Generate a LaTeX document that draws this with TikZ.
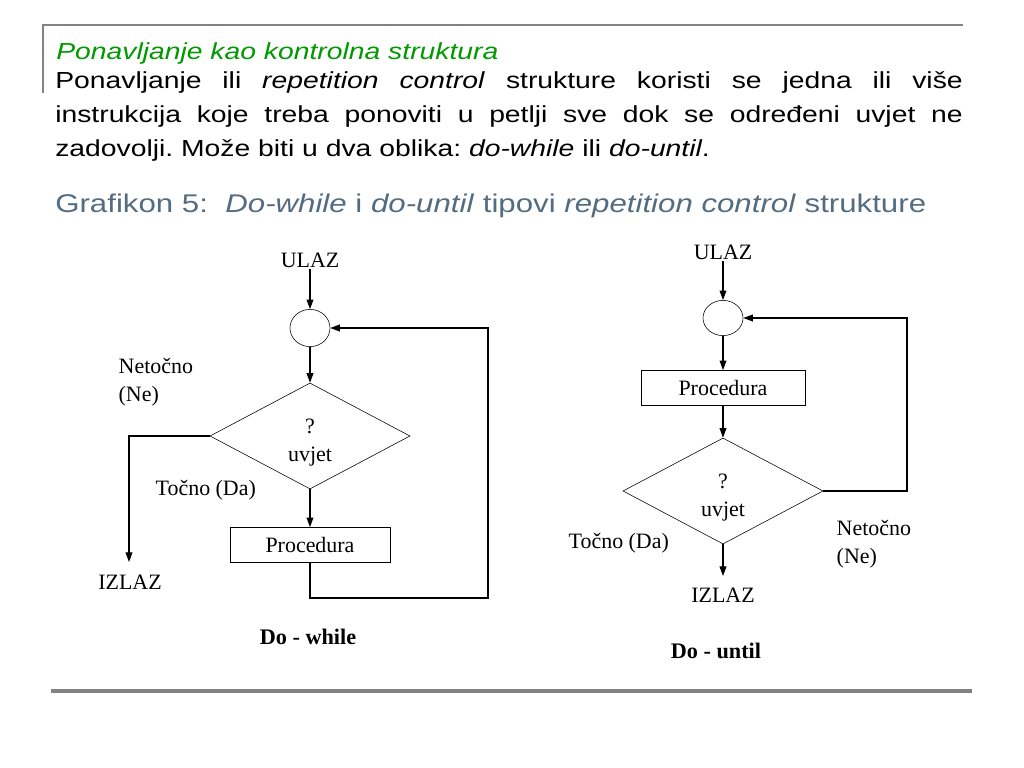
\documentclass[tikz,border=0pt]{standalone}
\usepackage{fontspec}
\setmainfont{Liberation Serif}
\newfontfamily\slidefont[FakeStretch=1.22]{Liberation Sans}
\usetikzlibrary{positioning,arrows.meta,shapes.geometric}
\definecolor{titlegreen}{RGB}{0,153,0}
\definecolor{capblue}{RGB}{84,108,130}
\definecolor{rulegray}{RGB}{130,130,130}
\frenchspacing

\begin{document}
\begin{tikzpicture}[x=0.025cm,y=-0.025cm,
        lbl/.style={font=\fontsize{15.6}{20}\selectfont,inner sep=1pt},
        joint/.style={draw,ellipse,minimum width=1cm,minimum height=0.93cm,inner sep=0pt},
        test/.style={draw,diamond,minimum width=5cm,minimum height=2.65cm,inner sep=0pt},
        cond/.style={align=center,font=\fontsize{15.6}{20}\selectfont,yshift=-4.5pt},
        proc/.style={draw,minimum width=4cm,minimum height=0.88cm,inner sep=0pt,
                     font=\fontsize{15.6}{20}\selectfont},
        arr/.style={-{Triangle[length=2.4mm,width=1.7mm]},line width=0.8pt}]
        \useasboundingbox (0,0) rectangle (1024,768);
        % slide frame
        \draw[rulegray,line width=1.5pt] (43,93) -- (43,25) -- (963,25);
        \draw[rulegray,line width=2.2pt] (51,691) -- (972,691);
        \node[anchor=base west,inner sep=0pt,text=titlegreen,
              font=\slidefont\itshape\fontsize{16.5}{24}\selectfont] (title) at (56,60)
            {Ponavljanje kao kontrolna struktura};
        \node[anchor=base west,inner sep=0pt,text width=22.68cm,align=justify,
              font=\slidefont\fontsize{16.5}{24.1}\selectfont] (body) at (55,89)
            {Ponavljanje ili \textit{repetition control} strukture koristi se jedna ili više\linebreak
             instrukcija koje treba ponoviti u petlji sve dok se određeni uvjet ne\linebreak
             zadovolji. Može biti u dva oblika: \textit{do-while} ili \textit{do-until}.};
        \node[anchor=base west,inner sep=0pt,text=capblue,
              font=\slidefont\fontsize{18.2}{26}\selectfont] (cap) at (55,212)
            {Grafikon 5:\ \ \textit{Do-while} i \textit{do-until} tipovi \textit{repetition control} strukture};

        % do-while
        \node[lbl] (in1) at (310,260) {ULAZ};
        \node[joint] (c1) at (310,328) {};
        \node[test,label={[cond]center:?\\uvjet}] (d1) at (310,436) {};
        \node[proc] (p1) at (310,545) {Procedura};
        \coordinate (loop1) at (488,598);
        \coordinate (out1) at (129,562);
        \node[lbl] (x1) at (130,582) {IZLAZ};
        \node[lbl,anchor=west,align=left] (no1) at (117,382) {Netočno\\(Ne)};
        \node[lbl,anchor=west] (yes1) at (154,490) {Točno (Da)};
        \node[lbl,font=\bfseries\fontsize{15.8}{20}\selectfont] (t1) at (308,637) {Do - while};
        \draw[arr] (in1) -- (c1);
        \draw[arr] (c1) -- (d1);
        \draw[arr] (d1) -- (p1);
        \draw[arr] (p1.south) |- (loop1) |- (c1.east);
        \draw[arr] (d1.west) -| (out1);

        % do-until
        \node[lbl] (in2) at (723,252) {ULAZ};
        \node[joint,minimum height=0.88cm] (c2) at (723,318) {};
        \node[proc,minimum width=4.1cm] (p2) at (723,388) {Procedura};
        \node[test,label={[cond]center:?\\uvjet}] (d2) at (723,491) {};
        \coordinate (loop2) at (907,318);
        \coordinate (out2) at (723,576);
        \node[lbl] (x2) at (723,595) {IZLAZ};
        \node[lbl,anchor=west] (yes2) at (567,543) {Točno (Da)};
        \node[lbl,anchor=west,align=left] (no2) at (835,544) {Netočno\\(Ne)};
        \node[lbl,font=\bfseries\fontsize{15.8}{20}\selectfont] (t2) at (716,651) {Do - until};
        \draw[arr] (in2) -- (c2);
        \draw[arr] (c2) -- (p2);
        \draw[arr] (p2) -- (d2);
        \draw[arr] (d2.east) -| (loop2) -- (c2.east);
        \draw[arr] (d2.south) -- (out2);
    \end{tikzpicture}
\end{document}
